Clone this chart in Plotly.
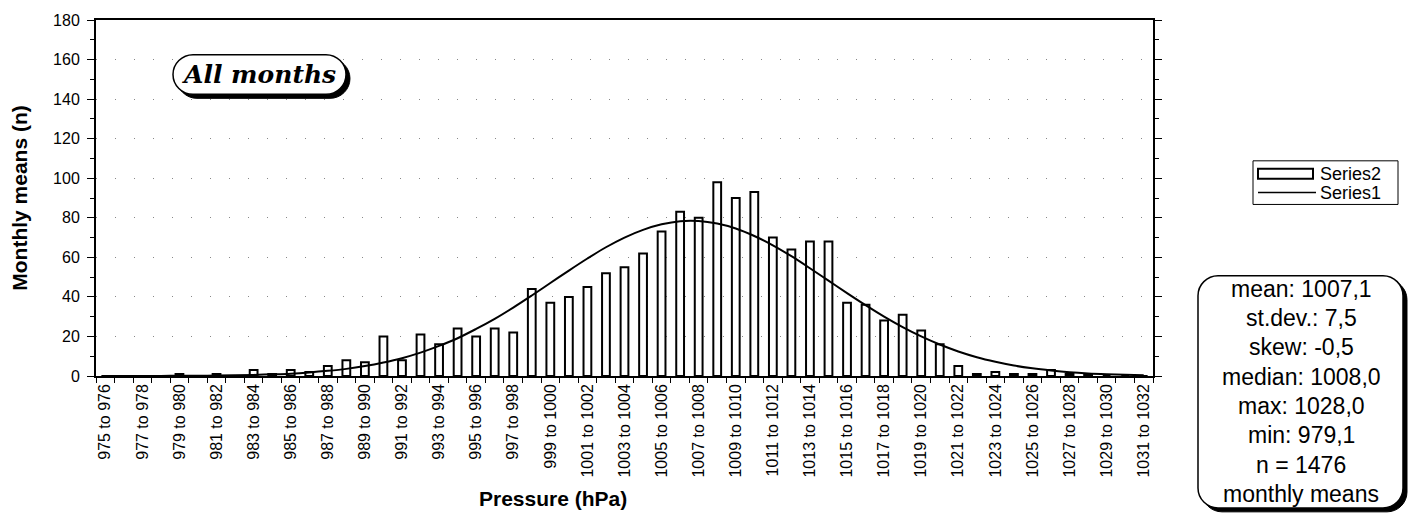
import plotly.graph_objects as go

# pressure classes, 1 hPa wide
lower = list(range(975, 1032))
categories = [f"{p} to {p + 1}" for p in lower]

# observed number of monthly means per class (Series2, bars)
counts = [0, 0, 0, 0, 1, 0, 1, 0, 3, 1,
          3, 2, 5, 8, 7, 20, 8, 21, 16, 24,
          20, 24, 22, 44, 37, 40, 45, 52, 55, 62,
          73, 83, 80, 98, 90, 93, 70, 64, 68, 68,
          37, 36, 28, 31, 23, 16, 5, 1, 2, 1,
          1, 3, 1, 1, 0, 0, 0]

# fitted normal curve (Series1, line)
fitted = [0.01, 0.02, 0.03, 0.05, 0.09, 0.15, 0.23, 0.36, 0.55, 0.84,
          1.2, 1.8, 2.6, 3.6, 5.0, 6.8, 9.0, 11.8, 15.2, 19.1,
          23.8, 28.9, 34.6, 40.7, 47.0, 53.3, 59.4, 65.1, 70.0, 73.9,
          76.7, 78.3, 78.4, 77.1, 74.6, 70.8, 66.1, 60.6, 54.5, 48.2,
          41.9, 35.8, 30.0, 24.7, 20.0, 15.9, 12.4, 9.5, 7.2, 5.3,
          3.9, 2.8, 1.9, 1.3, 0.9, 0.6, 0.4]

stats_lines = ["mean: 1007,1", "st.dev.: 7,5", "skew: -0,5", "median: 1008,0",
               "max: 1028,0", "min: 979,1", "n = 1476", "monthly means"]

W, H = 1411, 517
L, R, T, B = 96, 1153, 17, 376
FONT = "Liberation Sans, Arial, sans-serif"


def px(x):
    return (x - L) / (R - L)


def py(y):
    return (B - y) / (B - T)


def rounded_path(x0, y0, x1, y1, r):
    k = 0.5523 * r
    seg = [
        ("M", [(x0 + r, y0)]),
        ("L", [(x1 - r, y0)]),
        ("C", [(x1 - r + k, y0), (x1, y0 + r - k), (x1, y0 + r)]),
        ("L", [(x1, y1 - r)]),
        ("C", [(x1, y1 - r + k), (x1 - r + k, y1), (x1 - r, y1)]),
        ("L", [(x0 + r, y1)]),
        ("C", [(x0 + r - k, y1), (x0, y1 - r + k), (x0, y1 - r)]),
        ("L", [(x0, y0 + r)]),
        ("C", [(x0, y0 + r - k), (x0 + r - k, y0), (x0 + r, y0)]),
    ]
    out = ""
    for cmd, pts in seg:
        out += cmd + " " + " ".join(f"{px(a):.5f},{py(b):.5f}" for a, b in pts) + " "
    return out + "Z"


def boxed(x0, y0, x1, y1, r, off):
    return [
        dict(type="path", xref="paper", yref="paper",
             path=rounded_path(x0 + off, y0 + off, x1 + off, y1 + off, r),
             fillcolor="black", line=dict(color="black", width=1)),
        dict(type="path", xref="paper", yref="paper",
             path=rounded_path(x0, y0, x1, y1, r),
             fillcolor="white", line=dict(color="black", width=1.5)),
    ]


def rect(x0, y0, x1, y1, width=1):
    return dict(type="rect", xref="paper", yref="paper",
                x0=px(x0), x1=px(x1), y0=py(y1), y1=py(y0),
                fillcolor="white", line=dict(color="black", width=width))


def label(x, y, text, size, xanchor="center", family=FONT):
    return dict(xref="paper", yref="paper", x=px(x), y=py(y), showarrow=False,
                text=text, xanchor=xanchor, yanchor="middle",
                font=dict(family=family, size=size, color="black"))


xs = list(range(len(categories)))

fig = go.Figure()
fig.add_trace(go.Bar(
    x=xs, y=counts, name="Series2", width=0.42,
    marker=dict(color="white", line=dict(color="black", width=2)),
))
fig.add_trace(go.Scatter(
    x=xs, y=fitted, name="Series1", mode="lines",
    line=dict(color="black", width=2, shape="spline"),
))

# title pill and statistics box
shapes = boxed(173, 52, 346, 92, 20, 4) + boxed(1198, 275, 1403, 509, 20, 4)

# legend box drawn by hand (Excel style)
shapes += [
    rect(1253, 159, 1398, 203),
    rect(1258, 167, 1313, 177, width=2),
    dict(type="line", xref="paper", yref="paper",
         x0=px(1258), x1=px(1316), y0=py(191), y1=py(191),
         line=dict(color="black", width=1.5)),
]

annotations = [
    label(259, 72, "<b><i>All months</i></b>", 25, family="DejaVu Serif, serif"),
    label(1318, 172, "Series2", 18, xanchor="left"),
    label(1318, 191, "Series1", 18, xanchor="left"),
    label(553, 500, "<b>Pressure (hPa)</b>", 21),
]
for i, line in enumerate(stats_lines):
    annotations.append(label(1301, 288 + i * 29.6, line, 23))

fig.update_layout(
    width=W, height=H,
    margin=dict(l=L, r=W - R, t=T, b=H - B),
    paper_bgcolor="white", plot_bgcolor="white",
    font=dict(family=FONT, color="black"),
    showlegend=False,
    shapes=shapes,
    annotations=annotations,
    xaxis=dict(
        range=[-0.5, len(categories) - 0.5],
        tickmode="array", tickvals=xs[::2], ticktext=categories[::2],
        tickangle=-90, tickfont=dict(size=16),
        ticks="outside", ticklen=0,
        minor=dict(tickmode="linear", tick0=-0.5, dtick=1, ticks="outside",
                   ticklen=5, tickcolor="black"),
        showline=True, linecolor="black", linewidth=1.5, mirror=True,
        showgrid=False, zeroline=False,
    ),
    yaxis=dict(
        range=[0, 180], dtick=20, tickfont=dict(size=16),
        ticks="outside", ticklen=7, tickcolor="black", ticklabelstandoff=4,
        minor=dict(dtick=10, ticks="outside", ticklen=4, tickcolor="black"),
        showline=True, linecolor="black", linewidth=2, mirror="allticks",
        showgrid=True, gridcolor="#888", gridwidth=1, griddash="1px,18px",
        zeroline=False,
        title=dict(text="<b>Monthly means (n)</b>", font=dict(size=21), standoff=20),
    ),
)

fig.write_html("out.html", config={"displayModeBar": False},
               post_script="document.body.style.margin = '0';")
